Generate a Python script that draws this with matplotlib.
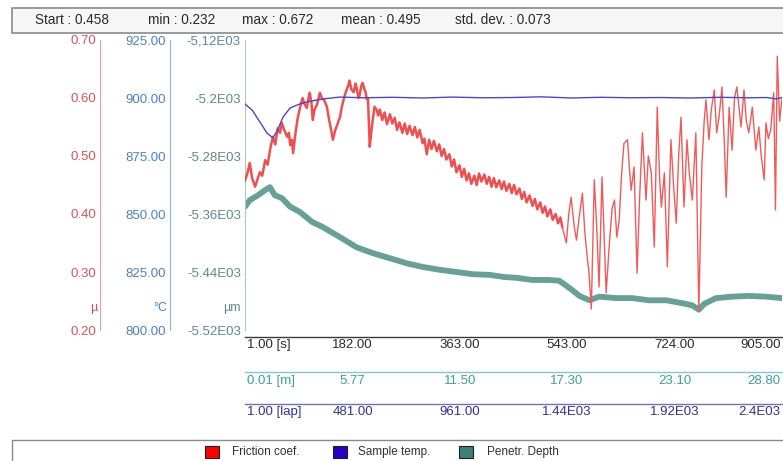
import matplotlib
matplotlib.use("Agg")
import matplotlib.pyplot as plt
from matplotlib.patches import Rectangle

plt.rcParams['font.family'] = ['Liberation Sans', 'DejaVu Sans']

# ---------------- data ----------------
header_items = ["Start : 0.458", "min : 0.232", "max : 0.672", "mean : 0.495", "std. dev. : 0.073"]

friction_t = [1, 5, 9, 13, 18, 22, 26, 30, 35, 39, 44, 48, 52, 56, 60, 63, 67, 72, 75, 77, 80, 82, 86, 90,
              94, 98, 101, 105, 108, 110, 113, 115, 118, 122, 125, 127, 131, 134, 137, 139, 143, 146, 149,
              153, 156, 159, 161, 164, 167, 170, 172, 175, 177, 180, 184, 187, 189, 192, 194, 197, 199, 202,
              204, 206, 208, 211, 214, 216, 219, 223, 225,
              228, 232, 236, 240, 245, 249, 253, 257, 261, 266, 270, 274, 278, 283, 287, 291, 295, 300, 303,
              307, 311, 315, 319, 324, 328, 332, 336, 340, 345, 349, 353, 357, 362, 366, 370, 374, 378, 382,
              387, 391, 395, 399, 404, 408, 412, 416, 420, 424, 429, 433, 437, 441, 446, 450, 454, 458, 463,
              467, 471, 475, 480, 485, 489, 493, 498, 502, 506, 510, 515, 519, 524, 528, 532, 535,
              542, 546, 550, 555, 559, 564, 569, 573, 577, 580, 584, 589, 593, 597, 602, 606, 609, 614, 619,
              623, 627, 631, 635, 639, 645, 648, 651, 656, 661, 665, 670, 676, 680, 685, 690, 695, 699, 702,
              707, 712, 718, 723, 727, 731, 735, 740, 745, 749, 754, 760, 765, 770, 774, 777, 782, 786, 791,
              795, 799, 804, 808, 811, 816, 821, 825, 829, 833, 836, 841, 845, 849, 855, 861, 866, 870, 875,
              878, 882, 886, 891, 894, 897, 901, 905]
friction_mu = [0.458, 0.470, 0.488, 0.462, 0.447, 0.460, 0.472, 0.466, 0.493, 0.485, 0.515, 0.533, 0.520,
               0.548, 0.540, 0.557, 0.545, 0.533, 0.540, 0.519, 0.528, 0.505, 0.540, 0.567, 0.585, 0.600,
               0.590, 0.583, 0.600, 0.609, 0.590, 0.562, 0.580, 0.588, 0.600, 0.609, 0.598, 0.597, 0.590,
               0.584, 0.560, 0.545, 0.528, 0.545, 0.553, 0.562, 0.567, 0.585, 0.597, 0.608, 0.614, 0.622,
               0.630, 0.615, 0.610, 0.625, 0.617, 0.600, 0.605, 0.622, 0.626, 0.615, 0.610, 0.598, 0.600,
               0.516, 0.545, 0.562, 0.585, 0.579, 0.570,
               0.580, 0.562, 0.575, 0.555, 0.572, 0.556, 0.566, 0.545, 0.558, 0.540, 0.556, 0.538, 0.552,
               0.536, 0.550, 0.532, 0.545, 0.522, 0.530, 0.503, 0.528, 0.512, 0.526, 0.508, 0.520, 0.500,
               0.512, 0.494, 0.503, 0.482, 0.494, 0.472, 0.484, 0.464, 0.478, 0.458, 0.470, 0.452, 0.466,
               0.450, 0.470, 0.456, 0.468, 0.452, 0.464, 0.447, 0.462, 0.446, 0.458, 0.443, 0.456, 0.440,
               0.452, 0.436, 0.450, 0.434, 0.444, 0.426, 0.438, 0.420, 0.432, 0.414, 0.426, 0.408, 0.420,
               0.402, 0.413, 0.396, 0.408, 0.390, 0.400, 0.384, 0.394, 0.378,
               0.350, 0.400, 0.429, 0.380, 0.355, 0.398, 0.436, 0.370, 0.326, 0.300, 0.236, 0.459, 0.380,
               0.274, 0.464, 0.350, 0.264, 0.343, 0.410, 0.424, 0.360, 0.390, 0.470, 0.522, 0.528, 0.480,
               0.441, 0.481, 0.298, 0.420, 0.540, 0.424, 0.500, 0.471, 0.343, 0.584, 0.460, 0.412, 0.471,
               0.309, 0.528, 0.440, 0.384, 0.500, 0.567, 0.412, 0.528, 0.470, 0.424, 0.540, 0.232, 0.481,
               0.560, 0.597, 0.528, 0.580, 0.614, 0.540, 0.567, 0.619, 0.520, 0.429, 0.584, 0.510, 0.600,
               0.619, 0.580, 0.550, 0.614, 0.560, 0.540, 0.584, 0.510, 0.550, 0.500, 0.459, 0.557, 0.530,
               0.545, 0.609, 0.407, 0.672, 0.560, 0.600]
# index where the coefficient turns from a steady band into strong stick-slip oscillation
stick_slip_start = friction_t.index(535)

temp_t = [1, 13, 26, 38, 48, 56, 65, 77, 93, 105, 132, 161, 200, 250, 300, 350, 400, 450, 500, 550,
          600, 650, 700, 750, 800, 850, 880, 895, 905]
temp_c = [897.4, 894.8, 889.7, 884.9, 882.8, 886.2, 891.8, 895.7, 897.4, 898.3, 899.6, 900.4, 900.1,
          900.3, 900.0, 900.4, 900.1, 900.2, 900.5, 900.0, 900.3, 900.1, 900.2, 900.0, 900.3, 900.1,
          900.2, 899.6, 900.2]

depth_t = [1, 9, 23, 35, 43, 51, 63, 77, 93, 114, 132, 161, 189, 216, 245, 273, 300, 329, 357, 384, 413,
           438, 458, 485, 513, 530, 542, 552, 564, 581, 597, 626, 653, 681, 710, 737, 754, 765, 774, 794,
           821, 849, 878, 905]
depth_um = [-5350, -5341, -5334, -5327, -5323, -5334, -5338, -5350, -5357, -5371, -5378, -5392, -5406,
            -5414, -5421, -5428, -5433, -5437, -5440, -5443, -5444, -5447, -5448, -5451, -5451, -5452,
            -5459, -5465, -5473, -5479, -5474, -5476, -5476, -5479, -5479, -5483, -5486, -5492, -5484,
            -5476, -5474, -5473, -5474, -5476]

mu_ticks = [0.20, 0.30, 0.40, 0.50, 0.60, 0.70]
mu_labels = ["0.20", "0.30", "0.40", "0.50", "0.60", "0.70"]
temp_ticks = [800, 825, 850, 875, 900, 925]
temp_labels = ["800.00", "825.00", "850.00", "875.00", "900.00", "925.00"]
depth_ticks = [-5520, -5440, -5360, -5280, -5200, -5120]
depth_labels = ["-5.52E03", "-5.44E03", "-5.36E03", "-5.28E03", "-5.2E03", "-5,12E03"]

time_ticks = [182, 363, 543, 724, 905]
time_labels = ["182.00", "363.00", "543.00", "724.00", "905.00"]
dist_labels = ["5.77", "11.50", "17.30", "23.10", "28.80"]
lap_labels = ["481.00", "961.00", "1.44E03", "1.92E03", "2.4E03"]
row_units = ["1.00 [s]", "0.01 [m]", "1.00 [lap]"]

legend_names = ["Friction coef.", "Sample temp.", "Penetr. Depth"]

# ---------------- styling ----------------
C_FRIC = "#f03c3c"
C_FRIC_LIGHT = "#f25a5a"
C_TEMP = "#4a44d6"
C_DEPTH = "#66a096"
C_FRIC_AX = "#e4505a"
C_TEMP_AX = "#4a80d4"
C_DEPTH_AX = "#5d8c84"

W, H = 783, 461
fig = plt.figure(figsize=(W / 100, H / 100), dpi=100)
fig.patch.set_facecolor("white")

x0, x1, y_top, y_bot = 245, 782, 40, 330
ax = fig.add_axes([x0 / W, 1 - y_bot / H, (x1 - x0) / W, (y_bot - y_top) / H])
ax_f = ax.twinx()
ax_t = ax.twinx()
for a in (ax, ax_f, ax_t):
    a.patch.set_visible(False)
    for s in a.spines.values():
        s.set_visible(False)


def px_to_axes_x(px):
    return (px - x0) / (x1 - x0)


def px_to_axes_y(py):
    return (y_bot - py) / (y_bot - y_top)


ax.set_xlim(1, 905)

# penetration depth (innermost axis)
ax.plot(depth_t, depth_um, color=C_DEPTH, lw=4.2, solid_joinstyle="round", solid_capstyle="round")
ax.set_ylim(-5520, -5120)
ax.set_yticks(depth_ticks, depth_labels)
ax.spines["left"].set_visible(True)
ax.spines["left"].set_color("#a8c8c0")
ax.tick_params(axis="y", colors=C_DEPTH_AX, length=0, pad=3, labelsize=9.5)
ax.set_xticks([])

# friction coefficient (outer axis)
k = stick_slip_start + 1
ax_f.plot(friction_t[:k], friction_mu[:k], color=C_FRIC, lw=1.8, alpha=0.9, solid_joinstyle="round")
ax_f.plot(friction_t[k - 1:], friction_mu[k - 1:], color=C_FRIC_LIGHT, lw=1.0)
ax_f.set_ylim(0.2, 0.7)
ax_f.yaxis.set_ticks_position("left")
ax_f.spines["left"].set_visible(True)
ax_f.spines["left"].set_position(("axes", px_to_axes_x(100)))
ax_f.spines["left"].set_color("#f0a0a0")
ax_f.set_yticks(mu_ticks, mu_labels)
ax_f.tick_params(axis="y", colors=C_FRIC_AX, length=0, pad=3, labelsize=9.5)

# sample temperature (middle axis)
ax_t.plot(temp_t, temp_c, color=C_TEMP, lw=1.0)
ax_t.set_ylim(800, 925)
ax_t.yaxis.set_ticks_position("left")
ax_t.spines["left"].set_visible(True)
ax_t.spines["left"].set_position(("axes", px_to_axes_x(170)))
ax_t.spines["left"].set_color("#90b4ec")
ax_t.set_yticks(temp_ticks, temp_labels)
ax_t.tick_params(axis="y", colors=C_TEMP_AX, length=0, pad=3, labelsize=9.5)

# unit labels
unit_y = px_to_axes_y(308)
ax.text(px_to_axes_x(97), unit_y, "µ", color=C_FRIC_AX, fontsize=9, ha="right", va="center",
        transform=ax.transAxes)
ax.text(px_to_axes_x(167), unit_y, "°C", color=C_TEMP_AX, fontsize=9, ha="right", va="center",
        transform=ax.transAxes)
ax.text(px_to_axes_x(241), unit_y, "µm", color=C_DEPTH_AX, fontsize=9, ha="right", va="center",
        transform=ax.transAxes)

# x-axis rows: time, distance, laps
tr = ax.get_xaxis_transform()
rows = [(337, 345, "#3a3a3a", "#2a2a2a", time_labels),
        (372, 381, "#80c8c8", "#3aa0a0", dist_labels),
        (404, 412, "#7070c8", "#3030a0", lap_labels)]
for (line_y, text_y, lcol, tcol, labels), unit in zip(rows, row_units):
    ly = px_to_axes_y(line_y)
    ty = px_to_axes_y(text_y)
    ax.plot([0, 1], [ly, ly], color=lcol, lw=1.0, transform=ax.transAxes, clip_on=False)
    ax.text(px_to_axes_x(247), ty, unit, color=tcol, fontsize=9.5, ha="left", va="center",
            transform=ax.transAxes)
    for i, (tv, lab) in enumerate(zip(time_ticks, labels)):
        last = i == len(labels) - 1
        ax.text(903 if last else tv, ty, lab, color=tcol, fontsize=9.5,
                ha="right" if last else "center", va="center", transform=tr)

# header box with statistics
fig.add_artist(Rectangle((12 / W, 1 - 33 / H), (W + 5 - 12) / W, 25 / H, transform=fig.transFigure,
                         facecolor="#f6f6f6", edgecolor="#8a8a8a", lw=1.2))
header_x = [35, 148, 242, 341, 455]
for hx, item in zip(header_x, header_items):
    fig.text(hx / W, 1 - 20.5 / H, item, fontsize=9.8, color="#2a2a2a", ha="left", va="center")

# legend box
fig.add_artist(Rectangle((12 / W, -0.02), (W + 5 - 12) / W, 1 - 440 / H + 0.02,
                         transform=fig.transFigure, facecolor="white", edgecolor="#8a8a8a", lw=1.0))
leg_colors = ["#ff0000", "#2a00c8", "#3c8078"]
leg_sq_x = [205, 333, 459]
leg_txt_x = [232, 358, 487]
for sx, tx, col, name in zip(leg_sq_x, leg_txt_x, leg_colors, legend_names):
    fig.add_artist(Rectangle((sx / W, 1 - 458 / H), 14 / W, 12 / H, transform=fig.transFigure,
                             facecolor=col, edgecolor="#202020", lw=0.8))
    fig.text(tx / W, 1 - 452 / H, name, fontsize=8.5, color="#303030", ha="left", va="center")

fig.savefig("out.png", dpi=100)
